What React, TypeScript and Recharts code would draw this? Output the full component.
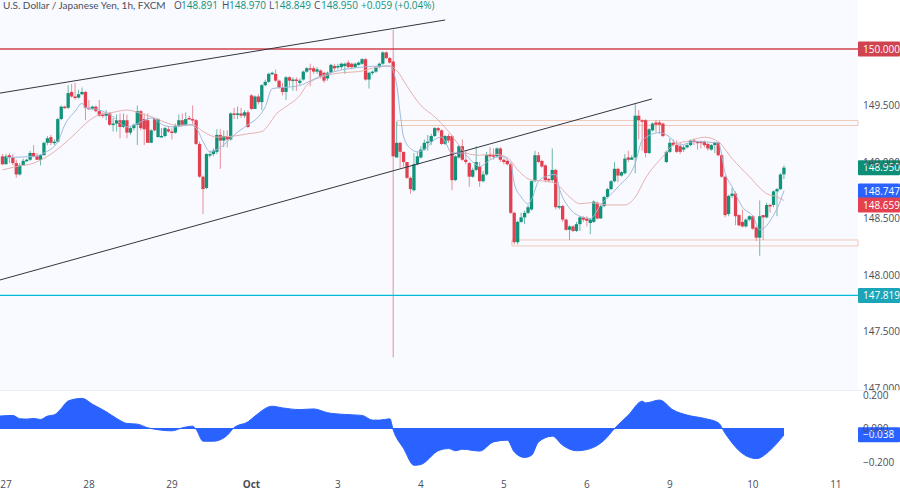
import {
  Area,
  Bar,
  ComposedChart,
  Line,
  ReferenceArea,
  ReferenceLine,
  XAxis,
  YAxis,
} from "recharts";

const FONT = "'Open Sans', sans-serif";
const HEADER_FONT = "Lato, sans-serif";
const UP = "#11927a";
const DOWN = "#e0404f";
const UP_WICK = "#6fb8a8";
const DOWN_WICK = "#e88f99";
const AXIS_TEXT = "#4a4e59";

// one candle per hour, first candle is hour -1 (hour 0 = 27 Sep 00:00, weekend skipped)
const FIRST_HOUR = -1;

const opens = [
  149.05, 148.98, 149.06, 149.04, 148.99, 148.89, 148.97, 149.01, 149.02, 149.08,
  149.05, 149.02, 149.06, 149.17, 149.22, 149.17, 149.18, 149.38, 149.49, 149.48,
  149.62, 149.58, 149.57, 149.6, 149.62, 149.48, 149.47, 149.49, 149.45, 149.42,
  149.41, 149.43, 149.33, 149.34, 149.37, 149.31, 149.37, 149.26, 149.3, 149.33,
  149.45, 149.38, 149.37, 149.17, 149.38, 149.22, 149.22, 149.23, 149.29, 149.27,
  149.26, 149.32, 149.37, 149.33, 149.39, 149.38, 149.37, 149.16, 148.87, 148.77,
  149.06, 149.07, 149.09, 149.24, 149.19, 149.23, 149.2, 149.43, 149.42, 149.43,
  149.41, 149.44, 149.59, 149.47, 149.58, 149.53, 149.68, 149.71, 149.78, 149.78,
  149.72, 149.66, 149.62, 149.75, 149.72, 149.73, 149.7, 149.73, 149.8, 149.83,
  149.83, 149.8, 149.81, 149.79, 149.74, 149.79, 149.85, 149.84, 149.84, 149.85,
  149.88, 149.87, 149.84, 149.86, 149.87, 149.91, 149.73, 149.79, 149.8, 149.84,
  149.87, 149.97, 149.92, 149.89, 149.04, 149.17, 149.09, 149.0, 148.86, 148.75,
  148.98, 149.04, 149.11, 149.17, 149.18, 149.23, 149.3, 149.28, 149.16, 149.23,
  149.23, 148.84, 149.04, 149.14, 149.02, 148.99, 148.87, 148.93, 148.96, 148.83,
  148.89, 149.07, 149.06, 149.05, 149.12, 149.02, 149.01, 148.98, 148.55, 148.29,
  148.47, 148.51, 148.55, 148.58, 148.83, 149.06, 149.01, 148.97, 148.85, 148.84,
  148.93, 148.6, 148.61, 148.49, 148.4, 148.43, 148.39, 148.45, 148.51, 148.5,
  148.46, 148.47, 148.64, 148.5, 148.61, 148.69, 148.76, 148.83, 148.94, 148.88,
  148.9, 149.04, 149.02, 149.04, 149.41, 149.37, 149.37, 149.08, 149.28, 149.35,
  149.35, 149.34, 149.0, 149.09, 149.17, 149.15, 149.14, 149.11, 149.13, 149.15,
  149.19, 149.18, 149.18, 149.18, 149.16, 149.11, 149.15, 149.17, 149.06, 148.87,
  148.54, 148.7, 148.72, 148.53, 148.47, 148.43, 148.49, 148.52, 148.42, 148.33,
  148.53, 148.51, 148.62, 148.62, 148.74, 148.76, 148.891,
];

const highs = [
  149.07, 149.07, 149.08, 149.07, 149.02, 148.99, 149.03, 149.03, 149.1, 149.15,
  149.08, 149.07, 149.18, 149.23, 149.24, 149.2, 149.39, 149.5, 149.5, 149.68,
  149.69, 149.7, 149.64, 149.66, 149.63, 149.55, 149.5, 149.5, 149.55, 149.44,
  149.46, 149.44, 149.39, 149.42, 149.43, 149.43, 149.42, 149.31, 149.34, 149.5,
  149.46, 149.43, 149.43, 149.29, 149.39, 149.39, 149.3, 149.31, 149.31, 149.3,
  149.34, 149.42, 149.43, 149.44, 149.41, 149.5, 149.38, 149.18, 148.88, 149.08,
  149.1, 149.12, 149.29, 149.29, 149.28, 149.28, 149.44, 149.48, 149.49, 149.48,
  149.46, 149.46, 149.6, 149.59, 149.6, 149.69, 149.73, 149.79, 149.8, 149.82,
  149.73, 149.7, 149.76, 149.76, 149.75, 149.75, 149.74, 149.81, 149.84, 149.87,
  149.85, 149.84, 149.82, 149.8, 149.8, 149.87, 149.87, 149.87, 149.88, 149.88,
  149.9, 149.88, 149.88, 149.89, 149.92, 149.92, 149.8, 149.81, 149.85, 149.88,
  149.98, 149.98, 149.93, 150.17, 149.36, 149.18, 149.09, 149.0, 148.87, 149.08,
  149.09, 149.14, 149.2, 149.24, 149.25, 149.31, 149.31, 149.29, 149.24, 149.25,
  149.24, 149.06, 149.15, 149.2, 149.1, 149.0, 148.95, 149.14, 149.0, 148.92,
  149.09, 149.13, 149.12, 149.13, 149.13, 149.03, 149.03, 149.0, 148.56, 148.48,
  148.55, 148.57, 148.62, 148.84, 149.1, 149.09, 149.02, 148.98, 148.86, 149.12,
  148.94, 148.78, 148.62, 148.5, 148.44, 148.44, 148.47, 148.52, 148.52, 148.52,
  148.5, 148.66, 148.65, 148.62, 148.7, 148.77, 148.84, 149.0, 148.95, 148.92,
  149.07, 149.1, 149.06, 149.52, 149.46, 149.38, 149.38, 149.3, 149.35, 149.37,
  149.37, 149.35, 149.1, 149.21, 149.2, 149.19, 149.17, 149.15, 149.17, 149.2,
  149.21, 149.19, 149.19, 149.19, 149.17, 149.16, 149.18, 149.18, 149.07, 148.88,
  148.71, 148.77, 148.74, 148.54, 148.58, 148.5, 148.53, 148.53, 148.43, 148.66,
  148.53, 148.64, 148.63, 148.75, 148.77, 148.9, 148.97,
];

const lows = [
  148.97, 148.98, 148.99, 148.97, 148.86, 148.88, 148.97, 149.0, 149.01, 149.04,
  149.02, 148.97, 149.06, 149.15, 149.15, 149.15, 149.17, 149.37, 149.47, 149.47,
  149.57, 149.55, 149.56, 149.59, 149.37, 149.46, 149.46, 149.44, 149.4, 149.39,
  149.37, 149.32, 149.27, 149.27, 149.21, 149.3, 149.21, 149.24, 149.28, 149.15,
  149.28, 149.15, 149.17, 149.17, 149.27, 149.22, 149.22, 149.22, 149.26, 149.2,
  149.25, 149.31, 149.32, 149.32, 149.37, 149.33, 149.15, 148.86, 148.54, 148.76,
  149.04, 149.05, 149.07, 148.94, 149.13, 149.13, 149.19, 149.38, 149.38, 149.39,
  149.39, 149.3, 149.46, 149.47, 149.51, 149.46, 149.67, 149.7, 149.77, 149.71,
  149.65, 149.59, 149.55, 149.67, 149.63, 149.63, 149.68, 149.72, 149.79, 149.67,
  149.78, 149.78, 149.74, 149.7, 149.72, 149.78, 149.8, 149.82, 149.82, 149.78,
  149.83, 149.82, 149.83, 149.85, 149.86, 149.72, 149.65, 149.77, 149.79, 149.83,
  149.86, 149.91, 149.87, 147.27, 149.04, 148.95, 148.96, 148.85, 148.72, 148.74,
  148.97, 149.03, 149.1, 149.1, 149.15, 149.22, 149.26, 149.15, 149.15, 149.17,
  148.75, 148.83, 149.03, 149.01, 148.98, 148.78, 148.86, 148.92, 148.78, 148.82,
  148.88, 149.03, 149.02, 149.04, 149.0, 148.98, 148.97, 148.54, 148.27, 148.27,
  148.46, 148.45, 148.54, 148.57, 148.82, 148.99, 148.95, 148.82, 148.82, 148.82,
  148.58, 148.58, 148.47, 148.39, 148.31, 148.38, 148.38, 148.39, 148.47, 148.43,
  148.36, 148.46, 148.49, 148.5, 148.6, 148.68, 148.75, 148.82, 148.82, 148.87,
  148.89, 149.0, 149.02, 148.9, 149.2, 149.1, 149.04, 149.07, 149.27, 149.26,
  149.25, 149.22, 148.99, 149.08, 149.14, 149.08, 149.07, 149.09, 149.12, 149.14,
  149.15, 149.11, 149.12, 149.13, 149.1, 149.1, 149.08, 149.05, 148.86, 148.51,
  148.52, 148.68, 148.44, 148.43, 148.42, 148.42, 148.48, 148.4, 148.3, 148.17,
  148.31, 148.5, 148.55, 148.6, 148.52, 148.75, 148.849,
];

const closes = [
  148.98, 149.05, 149.04, 148.99, 148.89, 148.97, 149.01, 149.02, 149.08, 149.05,
  149.02, 149.06, 149.17, 149.21, 149.17, 149.18, 149.38, 149.49, 149.48, 149.61,
  149.58, 149.57, 149.6, 149.62, 149.48, 149.47, 149.49, 149.45, 149.41, 149.41,
  149.43, 149.33, 149.34, 149.37, 149.31, 149.37, 149.26, 149.3, 149.33, 149.45,
  149.3, 149.29, 149.17, 149.28, 149.28, 149.38, 149.23, 149.3, 149.27, 149.26,
  149.32, 149.37, 149.33, 149.38, 149.38, 149.37, 149.16, 148.87, 148.76, 149.07,
  149.07, 149.1, 149.24, 149.19, 149.23, 149.2, 149.43, 149.42, 149.43, 149.41,
  149.44, 149.31, 149.47, 149.58, 149.53, 149.68, 149.71, 149.78, 149.79, 149.72,
  149.66, 149.62, 149.75, 149.72, 149.73, 149.72, 149.72, 149.8, 149.83, 149.82,
  149.8, 149.82, 149.76, 149.72, 149.79, 149.86, 149.83, 149.85, 149.87, 149.87,
  149.84, 149.84, 149.87, 149.88, 149.91, 149.73, 149.79, 149.8, 149.84, 149.87,
  149.97, 149.92, 149.88, 149.05, 149.17, 149.09, 149.0, 148.86, 148.76, 148.98,
  149.05, 149.11, 149.17, 149.18, 149.23, 149.3, 149.28, 149.16, 149.23, 149.19,
  148.84, 149.05, 149.14, 149.02, 149.0, 148.87, 148.93, 149.0, 148.83, 148.89,
  149.06, 149.05, 149.05, 149.12, 149.02, 149.0, 148.98, 148.55, 148.29, 148.47,
  148.51, 148.55, 148.6, 148.83, 149.06, 149.0, 148.96, 148.84, 148.84, 148.93,
  148.6, 148.61, 148.49, 148.4, 148.43, 148.39, 148.45, 148.51, 148.49, 148.48,
  148.49, 148.65, 148.5, 148.61, 148.69, 148.76, 148.83, 148.94, 148.88, 148.91,
  149.03, 149.02, 149.04, 149.41, 149.37, 149.36, 149.08, 149.29, 149.34, 149.33,
  149.33, 149.23, 149.09, 149.17, 149.15, 149.09, 149.09, 149.13, 149.15, 149.19,
  149.18, 149.17, 149.17, 149.15, 149.12, 149.15, 149.17, 149.06, 148.87, 148.53,
  148.7, 148.72, 148.52, 148.44, 148.43, 148.49, 148.52, 148.41, 148.33, 148.52,
  148.51, 148.62, 148.61, 148.74, 148.76, 148.89, 148.95,
];

const slowMaHours = [
  -1, 3, 8, 12, 16, 20, 23, 27, 31, 35, 39, 43, 47, 50, 54, 57, 61, 66, 70, 74, 76, 78, 81, 85, 87,
  92, 97, 102, 106, 111, 113, 116, 120, 124, 128, 131, 133, 137, 141, 145, 148, 152, 156, 159, 163,
  166, 169, 174, 179, 182, 185, 190, 193, 198, 202, 206, 210, 215, 220, 223, 225,
];
const slowMaValues = [
  148.93, 148.96, 148.99, 149.05, 149.14, 149.25, 149.34, 149.42, 149.44, 149.46, 149.43, 149.39,
  149.34, 149.32, 149.33, 149.27, 149.22, 149.23, 149.25, 149.27, 149.33, 149.42, 149.49, 149.59,
  149.68, 149.76, 149.79, 149.8, 149.83, 149.85, 149.81, 149.67, 149.5, 149.4, 149.27, 149.15,
  149.08, 149.06, 149.07, 149.04, 148.93, 148.84, 148.83, 148.81, 148.69, 148.63, 148.64, 148.62,
  148.62, 148.69, 148.86, 149.05, 149.15, 149.19, 149.22, 149.18, 149.03, 148.87, 148.72, 148.69,
  148.659,
];

const fastMaHours = [
  0, 8, 11, 15, 17, 20, 22, 23, 27, 31, 35, 38, 42, 46, 49, 53, 55, 57, 59, 61, 64, 66, 70, 73, 75,
  77, 80, 84, 91, 95, 103, 109, 111, 113, 114, 115, 117, 119, 121, 124, 126, 129, 132, 135, 137, 140,
  143, 146, 147, 149, 151, 152, 154, 156, 159, 160, 163, 166, 169, 172, 177, 182, 184, 189, 191, 195,
  199, 206, 208, 210, 213, 216, 218, 222, 224, 225,
];
const fastMaValues = [
  149.04, 149.05, 149.08, 149.18, 149.33, 149.45, 149.52, 149.48, 149.46, 149.4, 149.31, 149.34,
  149.39, 149.32, 149.31, 149.33, 149.3, 149.18, 149.09, 149.11, 149.18, 149.24, 149.33, 149.4,
  149.49, 149.65, 149.66, 149.67, 149.76, 149.8, 149.84, 149.85, 149.85, 149.68, 149.43, 149.22,
  149.12, 149.09, 149.11, 149.2, 149.22, 149.08, 149.08, 149.0, 148.96, 149.02, 149.05, 148.99,
  148.81, 148.69, 148.63, 148.67, 148.83, 148.87, 148.89, 148.77, 148.59, 148.52, 148.5, 148.62,
  148.78, 148.99, 149.19, 149.26, 149.24, 149.15, 149.18, 149.17, 148.9, 148.78, 148.6, 148.52,
  148.4, 148.53, 148.66, 148.747,
];

const oscHours = [
  -2, 2, 4, 6, 8, 10, 12, 14, 16, 18, 22, 25, 29, 32, 35, 38, 41, 45, 48, 51, 54, 55, 57, 60, 64, 66,
  70, 72, 77, 80, 85, 89, 93, 98, 103, 106, 108, 111, 112, 115, 118, 120, 125, 128, 130, 132, 137,
  141, 145, 147, 150, 152, 154, 158, 161, 165, 169, 173, 176, 180, 184, 185, 189, 193, 197, 202, 206,
  208, 213, 217, 221, 225,
];
const oscValues = [
  0.074, 0.078, 0.058, 0.056, 0.06, 0.054, 0.074, 0.082, 0.12, 0.165, 0.18, 0.145, 0.1, 0.06, 0.03,
  0.026, 0.004, -0.01, -0.014, 0.004, 0.014, -0.006, -0.076, -0.076, -0.04, 0.006, 0.04, 0.074,
  0.133, 0.123, 0.113, 0.117, 0.094, 0.084, 0.078, 0.05, 0.05, 0.058, -0.01, -0.12, -0.22, -0.215,
  -0.133, -0.12, -0.133, -0.124, -0.135, -0.08, -0.07, -0.14, -0.173, -0.16, -0.08, -0.046, -0.1,
  -0.133, -0.12, -0.07, 0, 0.08, 0.163, 0.153, 0.17, 0.11, 0.08, 0.06, 0.034, -0.03, -0.15, -0.18,
  -0.13, -0.038,
];

const priceTicks = [147, 147.5, 148, 148.5, 149, 149.5];
const oscTicks = [-0.2, 0, 0.2];
const dayTicks = [0, 24, 48, 71, 96, 120, 144, 168, 192, 216, 240];
const dayLabels = ["27", "28", "29", "Oct", "3", "4", "5", "6", "9", "10", "11"];

const headerParts = [
  { text: "U.S. Dollar / Japanese Yen, 1h, FXCM", left: 3, color: AXIS_TEXT },
  { text: "O", left: 174, color: AXIS_TEXT },
  { text: "148.891", left: 181, color: UP },
  { text: "H", left: 222, color: AXIS_TEXT },
  { text: "148.970", left: 229, color: UP },
  { text: "L", left: 269, color: AXIS_TEXT },
  { text: "148.849", left: 274, color: UP },
  { text: "C", left: 314, color: AXIS_TEXT },
  { text: "148.950", left: 321, color: UP },
  { text: "+0.059 (+0.04%)", left: 361, color: UP },
];

const candleRows = opens.map((open, i) => ({
  hour: FIRST_HOUR + i,
  open,
  close: closes[i],
  high: highs[i],
  low: lows[i],
  range: [lows[i], highs[i]],
}));
const slowMaRows = slowMaHours.map((hour, i) => ({ hour, value: slowMaValues[i] }));
const fastMaRows = fastMaHours.map((hour, i) => ({ hour, value: fastMaValues[i] }));
const oscRows = oscHours.map((hour, i) => ({ hour, value: oscValues[i] }));

const HOUR_DOMAIN: [number, number] = [-1.735, 246.4];

function Candle({ x, y, width, height, payload }: any) {
  const { open, close, high, low } = payload;
  const perUnit = height / (high - low);
  const rising = close >= open;
  const bodyTop = y + (high - Math.max(open, close)) * perUnit;
  const bodyHeight = Math.max(Math.abs(close - open) * perUnit, 1.5);
  const mid = x + width / 2;
  return (
    <g>
      <line x1={mid} x2={mid} y1={y} y2={y + height} stroke={rising ? UP_WICK : DOWN_WICK} strokeWidth={1} />
      <rect x={x} y={bodyTop} width={width} height={bodyHeight} fill={rising ? UP : DOWN} />
    </g>
  );
}

function priceTag(text: string, color: string, shift = 0) {
  return ({ viewBox }: any) => {
    const mid = viewBox.y + shift;
    return (
      <g>
        <rect x={858} y={mid - 7.5} width={42} height={15} fill={color} rx={1} />
        <text x={863} y={mid + 3.5} fill="#fff" fontSize={10} fontFamily={FONT}>
          {text}
        </text>
      </g>
    );
  };
}

function DayTick({ x, y, index }: any) {
  const label = dayLabels[index];
  return (
    <text
      x={x}
      y={y + 8}
      textAnchor="middle"
      fontSize={10}
      fontFamily={FONT}
      fontWeight={label === "Oct" ? 700 : 400}
      fill={AXIS_TEXT}
    >
      {label}
    </text>
  );
}

export default function App() {
  return (
    <div style={{ position: "absolute", left: 0, top: 0, width: 900, height: 492, background: "#fff", overflow: "hidden" }}>
      <div style={{ position: "absolute", left: 0, top: 0, width: 858, height: 390, background: "#f9faff" }} />
      <div style={{ position: "absolute", left: 0, top: 0 }}>
        <ComposedChart width={900} height={390} data={candleRows} margin={{ top: 0, right: 0, bottom: 0, left: 0 }}>
          <XAxis dataKey="hour" type="number" domain={HOUR_DOMAIN} allowDataOverflow hide />
          <YAxis
            orientation="right"
            width={42}
            domain={[146.982, 150.434]}
            allowDataOverflow
            ticks={priceTicks}
            interval={0}
            tickFormatter={(v: number) => v.toFixed(3)}
            tick={{ fill: AXIS_TEXT, fontSize: 10, fontFamily: FONT }}
            tickLine={false}
            axisLine={false}
            tickMargin={5}
            tickSize={0}
          />
          <ReferenceArea x1={113.1} x2={246.4} y1={149.323} y2={149.367} fill="none" stroke="#f0c8b8" strokeWidth={1} />
          <ReferenceArea x1={146.3} x2={246.4} y1={148.257} y2={148.31} fill="none" stroke="#f0c8b8" strokeWidth={1} />
          <ReferenceLine y={150} stroke="#d0424f" strokeWidth={1.5} label={priceTag("150.000", "#d0424f")} />
          <ReferenceLine y={147.819} stroke="#00bcd4" strokeWidth={1.2} label={priceTag("147.819", "#1ca5b8")} />
          <ReferenceLine
            segment={[{ x: -1.735, y: 149.61 }, { x: 127, y: 150.257 }]}
            stroke="#33363f"
            strokeWidth={1}
            ifOverflow="visible"
          />
          <ReferenceLine
            segment={[{ x: -1.735, y: 147.956 }, { x: 186.8, y: 149.558 }]}
            stroke="#33363f"
            strokeWidth={1}
            ifOverflow="visible"
          />
          <Bar dataKey="range" barSize={3.3} shape={<Candle />} isAnimationActive={false} />
          <Line
            data={slowMaRows}
            dataKey="value"
            type="monotone"
            stroke="#e6b0b0"
            strokeWidth={1}
            dot={false}
            activeDot={false}
            isAnimationActive={false}
          />
          <Line
            data={fastMaRows}
            dataKey="value"
            type="monotone"
            stroke="#9dbadb"
            strokeWidth={1}
            dot={false}
            activeDot={false}
            isAnimationActive={false}
          />
          <ReferenceLine y={148.95} stroke="none" label={priceTag("148.950", "#0b8f76")} />
          <ReferenceLine y={148.747} stroke="none" label={priceTag("148.747", "#2962ff", 0.5)} />
          <ReferenceLine y={148.659} stroke="none" label={priceTag("148.659", "#e5404f", 4.5)} />
        </ComposedChart>
      </div>
      {headerParts.map((part) => (
        <span
          key={part.left}
          style={{
            position: "absolute",
            left: part.left,
            top: 0,
            fontSize: 10,
            lineHeight: "11px",
            fontFamily: part.left === 3 ? HEADER_FONT : FONT,
            color: part.color,
            whiteSpace: "nowrap",
          }}
        >
          {part.text}
        </span>
      ))}
      <div style={{ position: "absolute", left: 0, top: 390, width: 900, height: 102, background: "#fff", borderTop: "1px solid #eceef3", boxSizing: "border-box" }} />
      <div style={{ position: "absolute", left: 0, top: 390 }}>
        <ComposedChart width={900} height={102} data={oscRows} margin={{ top: 0, right: 0, bottom: 0, left: 0 }}>
          <XAxis
            dataKey="hour"
            type="number"
            domain={HOUR_DOMAIN}
            allowDataOverflow
            ticks={dayTicks}
            interval={0}
            height={20}
            tick={<DayTick />}
            tickLine={false}
            axisLine={false}
          />
          <YAxis
            orientation="right"
            width={42}
            domain={[-0.26, 0.23]}
            allowDataOverflow
            ticks={oscTicks}
            interval={0}
            tickFormatter={(v: number) => v.toFixed(3).replace("-", "\u2212")}
            tick={{ fill: AXIS_TEXT, fontSize: 10, fontFamily: FONT }}
            tickLine={false}
            axisLine={false}
            tickMargin={5}
            tickSize={0}
          />
          <Area
            dataKey="value"
            type="monotone"
            stroke="#2962ff"
            strokeWidth={1}
            fill="#2962ff"
            fillOpacity={1}
            baseValue={0}
            dot={false}
            activeDot={false}
            isAnimationActive={false}
          />
          <ReferenceLine segment={[{ x: -1.735, y: 0 }, { x: 225, y: 0 }]} stroke="#2962ff" strokeWidth={1} ifOverflow="visible" />
          <ReferenceLine y={-0.038} stroke="none" label={priceTag("\u22120.038", "#2962ff")} />
        </ComposedChart>
      </div>
    </div>
  );
}
